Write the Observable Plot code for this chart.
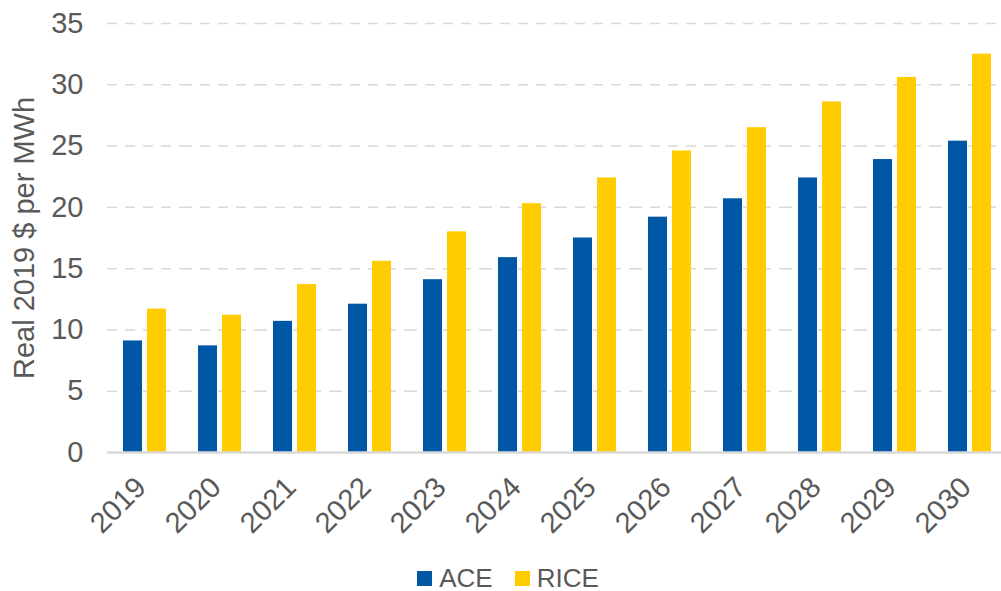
<!DOCTYPE html>
<html>
<head>
<meta charset="utf-8">
<script src="https://cdn.jsdelivr.net/npm/d3@7"></script>
<script src="https://cdn.jsdelivr.net/npm/@observablehq/plot@0.6"></script>
<style>
  html, body { margin: 0; padding: 0; background: white; overflow: hidden; }
  #wrap { position: relative; width: 1001px; height: 591px; }
  #legend { position: absolute; left: 0; top: 565px; width: 1001px; display: flex; justify-content: center; align-items: center; font-family: "Liberation Sans", Arial, sans-serif; font-size: 26px; color: #595959; padding-left: 15px; box-sizing: border-box; line-height: 1; }
  #legend .item { display: flex; align-items: center; margin: 0 11px; }
  #legend .sw { width: 15px; height: 15px; margin-right: 7px; }
</style>
</head>
<body>
<div id="wrap">
<div id="chart"></div>
<div id="legend"></div>
</div>
<script>
const years = ["2019","2020","2021","2022","2023","2024","2025","2026","2027","2028","2029","2030"];
const ace  = [9.1, 8.7, 10.7, 12.1, 14.1, 15.9, 17.5, 19.2, 20.7, 22.4, 23.9, 25.4];
const rice = [11.7, 11.2, 13.7, 15.6, 18.0, 20.3, 22.4, 24.6, 26.5, 28.6, 30.6, 32.5];
const series = ["ACE", "RICE"];
const colors = ["#0057A6", "#FFCC00"];
const yTicks = [0, 5, 10, 15, 20, 25, 30, 35];

const data = years.flatMap((yr, i) => [
  {year: yr, series: "ACE", value: ace[i]},
  {year: yr, series: "RICE", value: rice[i]}
]);

const chart = Plot.plot({
  width: 1001,
  height: 548,
  marginLeft: 105,
  marginRight: -7,
  marginTop: 23,
  marginBottom: 96,
  style: {fontFamily: "'Liberation Sans', Arial, sans-serif", fontSize: "29px", color: "#595959", background: "white"},
  fx: {domain: years, paddingInner: 0, paddingOuter: 0, label: null},
  x: {domain: series, paddingInner: 0.2, paddingOuter: 0.65, axis: null},
  y: {domain: [0, 35]},
  color: {domain: series, range: colors},
  marks: [
    Plot.gridY(yTicks.slice(1), {stroke: "#d9d9d9", strokeOpacity: 1, strokeWidth: 1.5, strokeDasharray: "10,8"}),
    Plot.barY(data, {fx: "year", x: "series", y: "value", fill: "series"}),
    Plot.ruleY([0], {stroke: "#d9d9d9", strokeWidth: 2.5}),
    Plot.axisY(yTicks, {tickSize: 0, tickPadding: 24, fontSize: 29, label: "Real 2019 $ per MWh", labelAnchor: "center", labelArrow: "none", labelOffset: 94}),
    Plot.axisFx({anchor: "bottom", tickRotate: -45, tickSize: 0, tickPadding: 30, dx: -4, fontSize: 29, label: null})
  ]
});
document.getElementById("chart").appendChild(chart);

const legend = document.getElementById("legend");
series.forEach((s, i) => {
  const item = document.createElement("div");
  item.className = "item";
  const sw = document.createElement("span");
  sw.className = "sw";
  sw.style.background = colors[i];
  const t = document.createElement("span");
  t.textContent = s;
  item.appendChild(sw);
  item.appendChild(t);
  legend.appendChild(item);
});
</script>
</body>
</html>
